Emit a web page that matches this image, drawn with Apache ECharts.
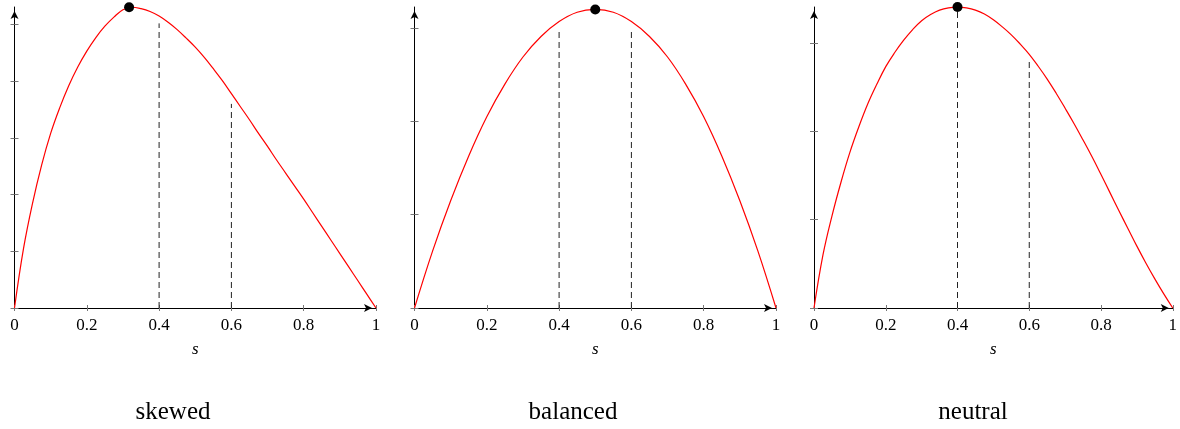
<!DOCTYPE html>
<html><head><meta charset="utf-8">
<script src="https://cdn.jsdelivr.net/npm/echarts@6/dist/echarts.min.js"></script>
<style>html,body{margin:0;padding:0;background:#fff}#c{width:1180px;height:429px}</style>
</head><body><div id="c"></div>
<script>
// ---- data ----
const panelTitles = ['skewed', 'balanced', 'neutral'];
const xTickLabels = ['0', '0.2', '0.4', '0.6', '0.8', '1'];
const xName = 's';

const sFine = [0, 0.025, 0.05, 0.075, 0.1, 0.125, 0.15, 0.175, 0.2, 0.225, 0.25, 0.275, 0.3, 0.325, 0.35, 0.375, 0.4, 0.425, 0.45, 0.475, 0.5, 0.525, 0.55, 0.575, 0.6, 0.625, 0.65, 0.675, 0.7, 0.725, 0.75, 0.775, 0.8, 0.825, 0.85, 0.875, 0.9, 0.925, 0.95, 0.975, 1];
const vSkewed = [0, 1.05, 1.85, 2.52, 3.08, 3.53, 3.92, 4.25, 4.53, 4.77, 4.97, 5.13, 5.26, 5.305, 5.28, 5.23, 5.15, 5.04, 4.91, 4.76, 4.6, 4.42, 4.22, 4.01, 3.78, 3.55, 3.32, 3.08, 2.85, 2.61, 2.38, 2.15, 1.92, 1.68, 1.44, 1.2, 0.96, 0.72, 0.48, 0.24, 0];

const sBalanced = [0, 0.05, 0.1, 0.15, 0.2, 0.25, 0.3, 0.35, 0.4, 0.45, 0.5, 0.55, 0.6, 0.65, 0.7, 0.75, 0.8, 0.85, 0.9, 0.95, 1];
const vBalanced = [0, 0.61, 1.15, 1.63, 2.05, 2.4, 2.69, 2.91, 3.07, 3.17, 3.2, 3.17, 3.07, 2.91, 2.69, 2.4, 2.05, 1.63, 1.15, 0.61, 0];

const vNeutral = [0, 0.6, 1.04, 1.42, 1.76, 2.05, 2.31, 2.53, 2.73, 2.89, 3.03, 3.15, 3.25, 3.32, 3.37, 3.396, 3.404, 3.395, 3.37, 3.325, 3.26, 3.18, 3.09, 2.985, 2.87, 2.735, 2.59, 2.43, 2.26, 2.085, 1.9, 1.71, 1.51, 1.305, 1.1, 0.9, 0.7, 0.51, 0.33, 0.16, 0];

const peakS = [0.317, 0.5, 0.4];
const peakV = [5.306, 3.2, 3.404];

const dashS = [[0.4, 0.6], [0.4, 0.6], [0.4, 0.6]];
const dashTop = [[5.02, 3.6], [3.0, 3.0], [3.404, 2.81]];

const yMax = [5.309, 3.226, 3.405];
const yTicks = [[0, 1, 2, 3, 4, 5], [0, 1, 2, 3], [0, 1, 2, 3]];

// ---- layout ----
const gridLeft = [14.5, 414.5, 814];
const gridWidth = [361.5, 361.5, 362];
const gridTop = 7, gridHeight = 301;
const titleX = [173, 573, 973];

const curves = [[sFine, vSkewed], [sBalanced, vBalanced], [sFine, vNeutral]];

const serif = 'Liberation Serif, Times New Roman, serif';
const grids = [], xAxes = [], yAxes = [], series = [];

for (let i = 0; i < 3; i++) {
  grids.push({left: gridLeft[i], top: gridTop, width: gridWidth[i], height: gridHeight, containLabel: false});
  const arrowLine = {show: true, onZero: false, lineStyle: {color: '#000', width: 1},
    symbol: ['none', 'arrow'], symbolSize: [6, 8], symbolOffset: [0, -4]};
  xAxes.push({
    gridIndex: i, type: 'value', min: 0, max: 1, interval: 0.2,
    axisLine: arrowLine,
    axisTick: {show: true, length: 3, lineStyle: {color: '#777', width: 1}},
    axisLabel: {show: true, margin: 9, fontFamily: serif, fontSize: 17, color: '#000',
      formatter: v => xTickLabels[Math.round(v / 0.2)]},
    splitLine: {show: false},
    name: xName, nameLocation: 'middle', nameGap: 33,
    nameTextStyle: {fontFamily: serif, fontStyle: 'italic', fontSize: 17, color: '#000'}
  });
  xAxes.push({
    gridIndex: i, type: 'value', min: 0, max: 1, interval: 0.2, position: 'bottom',
    axisLine: {show: false},
    axisTick: {show: true, inside: true, length: 3, lineStyle: {color: '#777', width: 1}},
    axisLabel: {show: false}, splitLine: {show: false}
  });
  yAxes.push({
    gridIndex: i, type: 'value', min: 0, max: yMax[i], interval: 1,
    axisLine: arrowLine,
    axisTick: {show: true, length: 4, customValues: yTicks[i], lineStyle: {color: '#777', width: 1}},
    axisLabel: {show: false}, splitLine: {show: false}
  });
  yAxes.push({
    gridIndex: i, type: 'value', min: 0, max: yMax[i], interval: 1, position: 'left',
    axisLine: {show: false},
    axisTick: {show: true, inside: true, length: 4, customValues: yTicks[i], lineStyle: {color: '#777', width: 1}},
    axisLabel: {show: false}, splitLine: {show: false}
  });

  const [sv, vv] = curves[i];
  for (let k = 0; k < 2; k++) {
    series.push({
      type: 'line', xAxisIndex: 2 * i, yAxisIndex: 2 * i, silent: true, symbol: 'none',
      data: [[dashS[i][k], 0], [dashS[i][k], dashTop[i][k]]],
      lineStyle: {color: '#222', width: 1, type: [6, 4]}, z: 2
    });
  }
  series.push({
    type: 'line', xAxisIndex: 2 * i, yAxisIndex: 2 * i, silent: true, symbol: 'none',
    smooth: 0.4, clip: false,
    data: sv.map((s, j) => [s, vv[j]]),
    lineStyle: {color: '#ff0000', width: 1.2}, z: 3
  });
  series.push({
    type: 'scatter', xAxisIndex: 2 * i, yAxisIndex: 2 * i, silent: true,
    symbol: 'circle', symbolSize: 10, clip: false,
    data: [[peakS[i], peakV[i]]],
    itemStyle: {color: '#000', opacity: 1}, z: 4
  });
}

const graphic = panelTitles.map((t, i) => ({
  type: 'text', x: titleX[i], y: 412,
  style: {text: t, fontFamily: serif, fontSize: 25, fill: '#000', textAlign: 'center', textVerticalAlign: 'middle'}
}));

const chart = echarts.init(document.getElementById('c'), null, {renderer: 'canvas'});
chart.setOption({
  animation: false,
  backgroundColor: '#fff',
  grid: grids, xAxis: xAxes, yAxis: yAxes, series: series, graphic: graphic
});
</script></body></html>
